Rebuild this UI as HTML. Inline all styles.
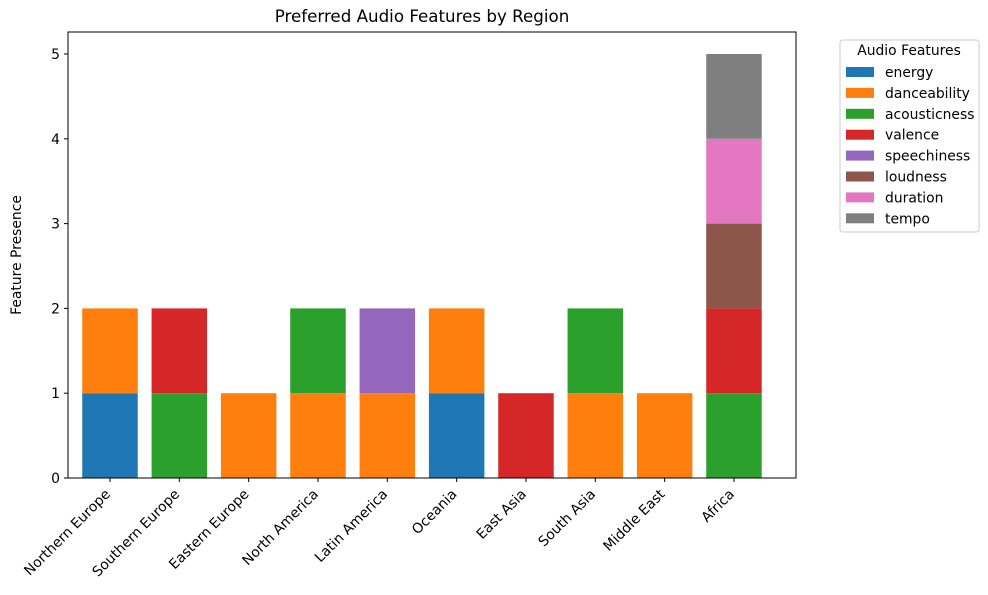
<!DOCTYPE html>
<html><head><meta charset="utf-8"><style>
body{margin:0;background:#fff}
svg{font-family:"DejaVu Sans","Liberation Sans",sans-serif}
</style></head><body>
<svg id="c" width="988" height="590" xmlns="http://www.w3.org/2000/svg"></svg>
<script>
const regions=["Northern Europe","Southern Europe","Eastern Europe","North America","Latin America","Oceania","East Asia","South Asia","Middle East","Africa"];
const features=["energy","danceability","acousticness","valence","speechiness","loudness","duration","tempo"];
const colors=["#1f77b4","#ff7f0e","#2ca02c","#d62728","#9467bd","#8c564b","#e377c2","#7f7f7f"];
const energy=[1,0,0,0,0,1,0,0,0,0];
const danceability=[1,0,1,1,1,1,0,1,1,0];
const acousticness=[0,1,0,1,0,0,0,1,0,1];
const valence=[0,1,0,0,0,0,1,0,0,1];
const speechiness=[0,0,0,0,1,0,0,0,0,0];
const loudness=[0,0,0,0,0,0,0,0,0,1];
const duration=[0,0,0,0,0,0,0,0,0,1];
const tempo=[0,0,0,0,0,0,0,0,0,1];
const series=[energy,danceability,acousticness,valence,speechiness,loudness,duration,tempo];
const yTicks=[0,1,2,3,4,5];
const NS="http://www.w3.org/2000/svg";
const svg=document.getElementById('c');
function el(t,a,txt){const e=document.createElementNS(NS,t);for(const k in a)e.setAttribute(k,a[k]);if(txt!==undefined)e.textContent=txt;svg.appendChild(e);return e;}
const L=68,R=796,T=32,B=478;
const xs=i=>110+69.33*i;
const ys=v=>B-v*84.8;
const bw=55.5;
const cum=regions.map(()=>0);
series.forEach((s,f)=>{
  s.forEach((v,i)=>{
    if(!v)return;
    const r=el('rect',{x:xs(i)-bw/2,y:ys(cum[i]+v),width:bw,height:ys(cum[i])-ys(cum[i]+v),fill:colors[f]});
    
    
    cum[i]+=v;
  });
});
const fr=el('rect',{x:L,y:T,width:R-L,height:B-T,fill:'none',stroke:'#000','stroke-width':1});

yTicks.forEach(v=>{
  el('line',{x1:L-4,x2:L,y1:ys(v),y2:ys(v),stroke:'#000'});
  const t=el('text',{x:L-8,y:ys(v)+5,'text-anchor':'end','font-size':13.9},v);
  
});
regions.forEach((r,i)=>{
  el('line',{x1:xs(i),x2:xs(i),y1:B,y2:B+4,stroke:'#000'});
  const px=xs(i)+1, py=B+17;
  const t=el('text',{x:px,y:py,'text-anchor':'end','font-size':13.9,transform:`rotate(-45 ${px} ${py})`},r);
  
});
const ti=el('text',{x:422,y:22,'text-anchor':'middle','font-size':16.7},'Preferred Audio Features by Region');

const yl=el('text',{x:21,y:255,'text-anchor':'middle','font-size':13.9,transform:'rotate(-90 21 255)'},'Feature Presence');

const lg=el('rect',{x:840,y:40,width:139,height:192,fill:'#fff',stroke:'#ccc',rx:3});

const lt=el('text',{x:909,y:55,'text-anchor':'middle','font-size':13.9},'Audio Features');

features.forEach((f,k)=>{
  const y=72+k*20.9;
  const sw=el('rect',{x:846,y:y-5,width:28,height:10,fill:colors[k]});
  
  const t=el('text',{x:885,y:y+5,'font-size':13.9},f);
  
});
</script>
</body></html>
